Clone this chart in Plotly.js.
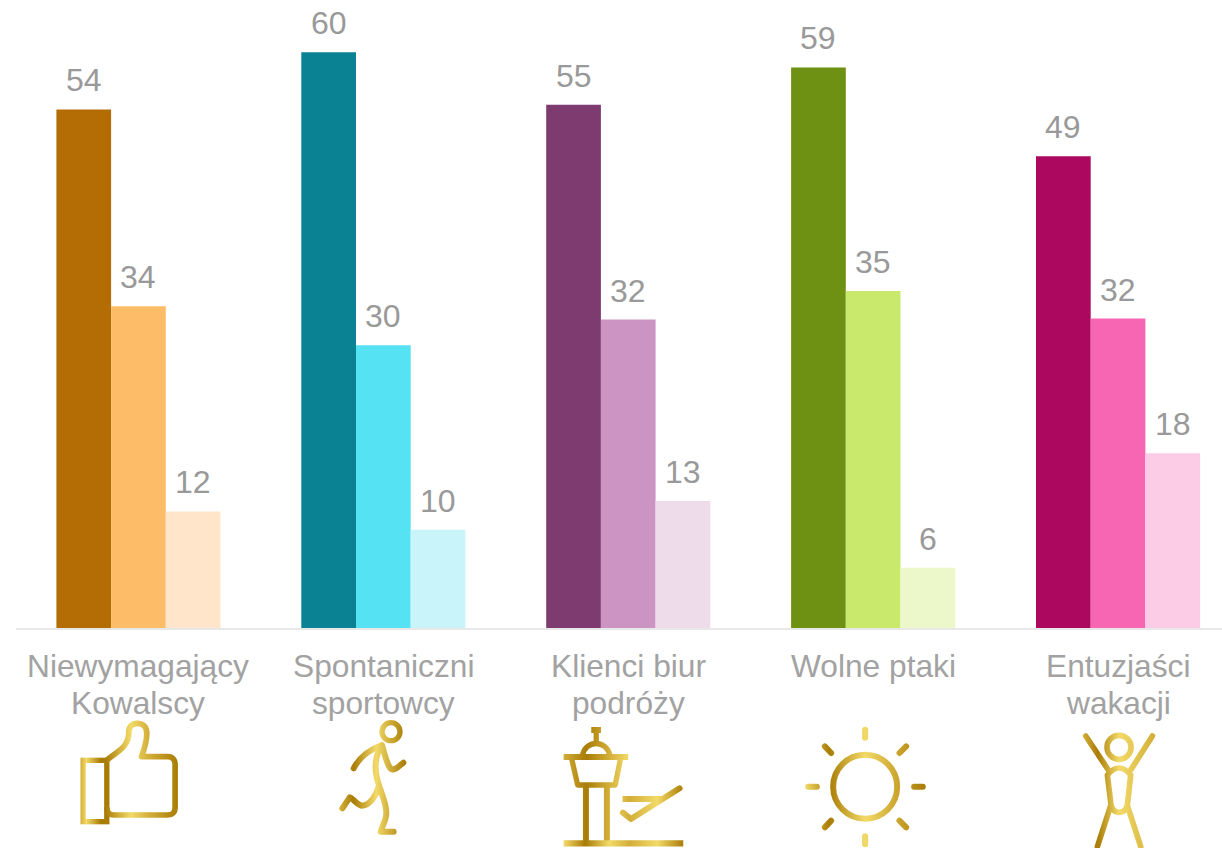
<!DOCTYPE html>
<html>
<head>
<meta charset="utf-8">
<script src="https://cdn.plot.ly/plotly-3.0.1.min.js"></script>
<style>html,body{margin:0;padding:0;background:#fff;overflow:hidden}</style>
</head>
<body>
<div id="chart" style="width:1222px;height:848px"></div>
<script>
// ---- data ----
const categoryLine1 = ['Niewymagający', 'Spontaniczni', 'Klienci biur', 'Wolne ptaki', 'Entuzjaści'];
const categoryLine2 = ['Kowalscy', 'sportowcy', 'podróży', '', 'wakacji'];
const seriesA = [54.3, 60.3, 54.8, 58.7, 49.4];
const seriesB = [33.7, 29.6, 32.3, 35.3, 32.4];
const seriesC = [12.2, 10.3, 13.3, 6.3, 18.3];
const colorsA = ['#B46D04', '#0A8294', '#7E3B70', '#6F9113', '#AD0860'];
const colorsB = ['#FDBD68', '#55E2F3', '#CC94C3', '#C8E96B', '#F766B3'];
const colorsC = ['#FFE6CB', '#C9F4FA', '#EEDCEB', '#ECF7CA', '#FCCBE6'];

const FONT = '"Liberation Sans", Arial, sans-serif';
const W = 1222, H = 848, ML = 15.5, AXIS_Y = 628;
const idx = categoryLine1.map((_, i) => i);
const barW = 0.67 / 3;

const traces = [[seriesA, colorsA], [seriesB, colorsB], [seriesC, colorsC]].map(([v, c]) => ({
  type: 'bar', x: idx, y: v, marker: {color: c, line: {width: 0}}, hoverinfo: 'x+y'
}));

const annotations = [];
[seriesA, seriesB, seriesC].forEach((vals, s) => vals.forEach((v, i) => annotations.push({
  x: i + (s - 1) * barW, y: v, xref: 'x', yref: 'y', text: String(Math.round(v)),
  showarrow: false, xanchor: 'center', yanchor: 'bottom', yshift: 9,
  font: {family: FONT, size: 32, color: '#999999'}
})));
[[categoryLine1, -38], [categoryLine2, -75]].forEach(([lines, shift]) => lines.forEach((t, i) => {
  if (t) annotations.push({
    x: i, y: 0, xref: 'x', yref: 'y', text: t, showarrow: false,
    xanchor: 'center', yanchor: 'middle', yshift: shift,
    font: {family: FONT, size: 31.7, color: '#A2A2A2'}
  });
}));

// ---- decorative gold icons (gradient line art) ----
function gold(id, x1, x2, stops) {
  return `<linearGradient id="${id}" gradientUnits="userSpaceOnUse" x1="${x1}" y1="0" x2="${x2}" y2="0">` +
    stops.map(s => `<stop offset="${s[0]}" stop-color="${s[1]}"/>`).join('') + '</linearGradient>';
}
const D = '#A97C06', L = '#F3DA68', M = '#D2AE38';
function icon(ox, oy, vx, vy, vw, vh, defs, body) {
  const svg = `<svg xmlns="http://www.w3.org/2000/svg" width="${vw/3}" height="${vh/3}" viewBox="${vx} ${vy} ${vw} ${vh}"><defs>${defs}</defs>` +
    `<g fill="none" stroke-linecap="round" stroke-linejoin="round">${body}</g></svg>`;
  const px = ox + vx / 3, py = oy + vy / 3;
  return {
    source: 'data:image/svg+xml;charset=utf-8,' + encodeURIComponent(svg),
    xref: 'paper', yref: 'paper', sizing: 'stretch', layer: 'above',
    x: (px - ML) / (W - ML), y: 1 - py / AXIS_Y, xanchor: 'left', yanchor: 'top',
    sizex: (vw / 3) / (W - ML), sizey: (vh / 3) / AXIS_Y
  };
}
const images = [
  icon(60, 715, 40, 0, 330, 345,
    gold('a', 60, 147, [[0, M], [.2, L], [.7, D], [1, D]]) + gold('b', 135, 352, [[0, D], [.35, L], [.6, M], [1, D]]),
    `<rect x="68" y="136" width="71" height="184" stroke="url(#a)" stroke-width="16" stroke-linejoin="miter"/>
     <path d="M140 135 C165 112 205 100 205 52 C205 34 215 25 231 25 C248 25 259 36 259 55 C259 85 250 105 243 125 L322 125 C336 125 344 134 344 148 L344 278 C344 292 336 300 322 300 L160 300 C148 300 140 292 140 282" stroke="url(#b)" stroke-width="17"/>`),
  icon(60, 715, 820, 0, 240, 370,
    gold('c', 840, 1035, [[0, M], [.2, D], [.55, L], [1, D]]),
    `<circle cx="992" cy="50" r="27" stroke="url(#c)" stroke-width="16"/>
     <g stroke="url(#c)" stroke-width="18">
     <path d="M880 160 C895 130 925 105 965 90 C972 115 978 145 990 160 C1000 170 1015 155 1029 143"/>
     <path d="M963 92 C945 120 942 160 950 190 C958 225 978 260 978 295 C978 315 965 335 961 350 L1000 350"/>
     <path d="M955 215 C948 240 930 270 905 272 C890 270 878 250 868 247 L846 280"/></g>`),
  icon(540, 715, 50, 20, 400, 379,
    gold('d', 70, 430, [[0, L], [.18, D], [.38, L], [.55, M], [.78, L], [1, D]]) + gold('e', 70, 264, [[0, M], [.35, D], [.7, M], [1, L]]),
    `<rect x="153" y="36" width="29" height="18" fill="url(#e)"/>
     <path d="M168 50 L168 80" stroke="url(#e)" stroke-width="16"/>
     <path d="M127 120 A41 41 0 0 1 208 120" stroke="url(#e)" stroke-width="16"/>
     <path d="M70 126 L264 126" stroke="url(#e)" stroke-width="18" stroke-linecap="butt"/>
     <path d="M95 135 L112 210 L225 210 L240 135" stroke="url(#e)" stroke-width="16"/>
     <path d="M137 210 L137 378 M200 210 L200 378" stroke="url(#e)" stroke-width="18" stroke-linecap="butt"/>
     <path d="M70 385 L429 385" stroke="url(#d)" stroke-width="19" stroke-linecap="butt"/>
     <path d="M247 252 L362 252" stroke="url(#d)" stroke-width="18" stroke-linecap="butt"/>
     <path d="M418 220 L272 312 L248 293" stroke="url(#d)" stroke-width="18"/>`),
  icon(540, 715, 780, 20, 390, 379,
    gold('f', 795, 1155, [[0, L], [.2, D], [.5, L], [.72, M], [1, D]]),
    `<circle cx="975" cy="215" r="96" stroke="url(#f)" stroke-width="18"/>
     <g stroke="url(#f)" stroke-width="18">
     <path d="M975 44 L975 68 M975 364 L975 388 M804 215 L830 215 M1122 215 L1148 215"/>
     <path d="M854 94 L873 114 M1098 94 L1078 114 M873 317 L854 337 M1078 317 L1098 337"/></g>`),
  icon(1040, 715, 110, 30, 250, 369,
    gold('g', 130, 345, [[0, M], [.2, D], [.5, L], [1, M]]),
    `<circle cx="237" cy="97" r="36" stroke="url(#g)" stroke-width="17"/>
     <g stroke="url(#g)" stroke-width="17">
     <path d="M202 180 Q237 138 272 180 L262 270 Q256 292 237 292 Q219 292 213 270 Z"/>
     <path d="M137 63 L205 165 M337 63 L272 165"/>
     <path d="M212 272 L172 395 M262 272 L302 395"/></g>`)
];

const layout = {
  width: W, height: H, autosize: false,
  margin: {l: ML, r: 0, t: 0, b: H - AXIS_Y, pad: 0},
  paper_bgcolor: '#fff', plot_bgcolor: '#fff',
  barmode: 'group', bargap: 0.33, bargroupgap: 0, showlegend: false,
  xaxis: {
    range: [-0.5, (W - 138) / 245], tickmode: 'array', tickvals: idx, showticklabels: false,
    ticks: '', showgrid: false, zeroline: false,
    showline: true, linecolor: '#E8E8E8', linewidth: 2
  },
  yaxis: {range: [0, AXIS_Y / 9.55], visible: false, showgrid: false, zeroline: false},
  annotations, images
};
Plotly.newPlot('chart', traces, layout, {displayModeBar: false, staticPlot: true});
</script>
</body>
</html>
